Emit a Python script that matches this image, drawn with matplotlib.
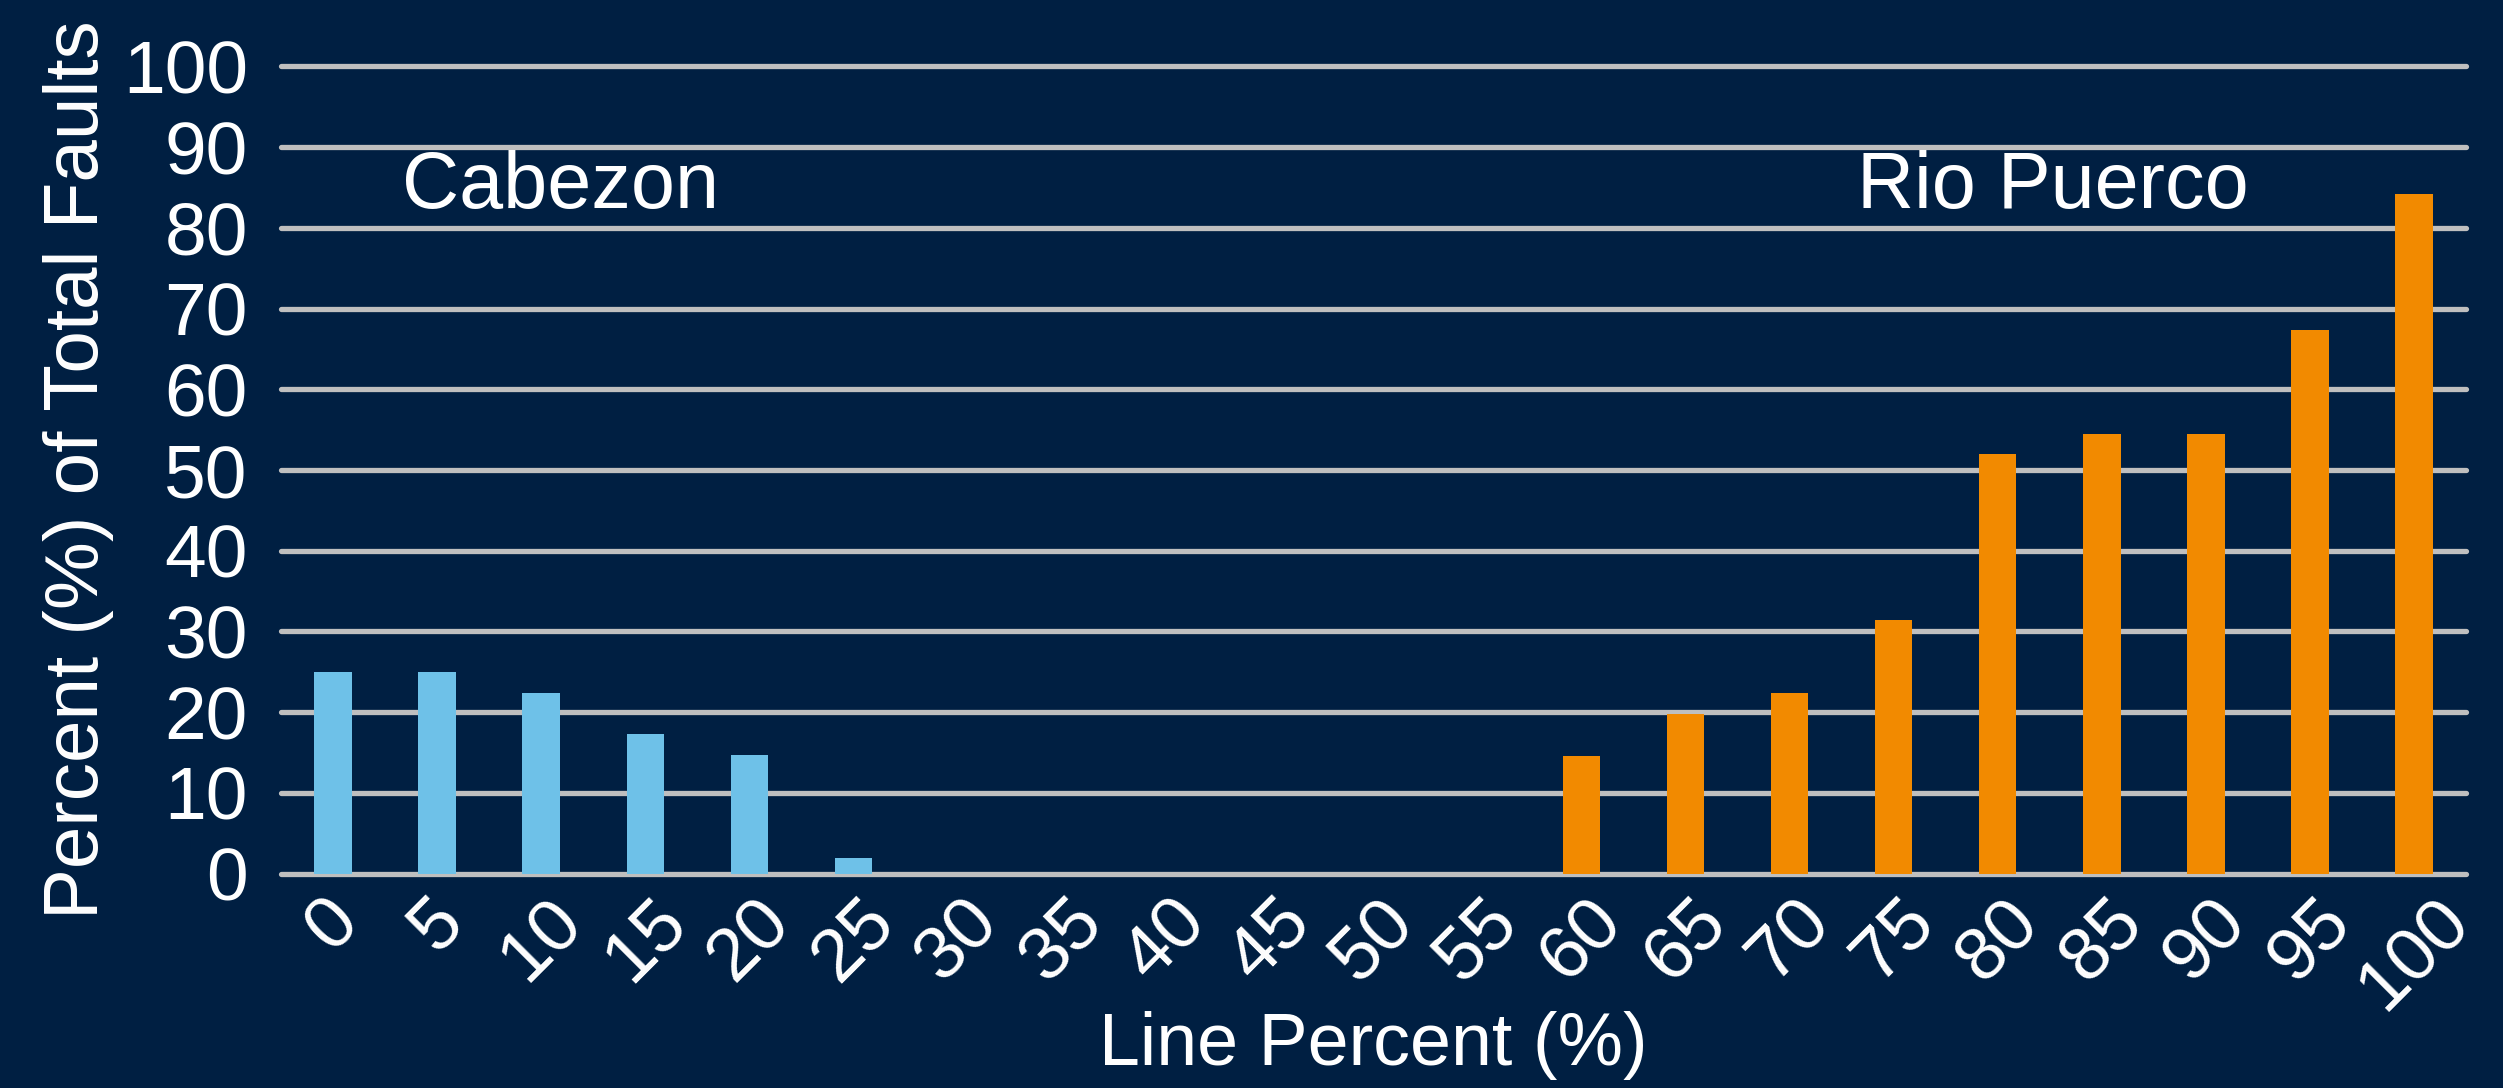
import matplotlib
matplotlib.use("Agg")
import matplotlib.pyplot as plt
import numpy as np

# line percent bins and share of faults per bin
bins = [str(v) for v in range(0, 105, 5)]
cabezon = [25.0, 25.0, 22.4, 17.3, 14.7, 1.9, 0, 0, 0, 0, 0, 0, 0, 0, 0, 0, 0, 0, 0, 0, 0]
rio_puerco = [0, 0, 0, 0, 0, 0, 0, 0, 0, 0, 0, 0, 14.6, 19.8, 22.4, 31.4, 52.0, 54.5, 54.5, 67.4, 84.2]
yticks = list(range(0, 101, 10))

bg = "#001f42"
plt.rcParams["font.family"] = ["Liberation Sans", "DejaVu Sans"]

fig = plt.figure(figsize=(25.03, 10.88), dpi=100, facecolor=bg)
ax = fig.add_axes([0.1123, 0.197, 0.8729, 0.742])
ax.set_facecolor(bg)

x = np.arange(len(bins))
ax.bar(x, cabezon, width=0.36, color="#6ec1e8", zorder=3)
ax.bar(x, rio_puerco, width=0.36, color="#f28a00", zorder=3)

# horizontal grid with rounded ends
for y in yticks:
    ax.plot([-0.5, 20.5], [y, y], color="#bfbfbf", lw=3.8,
            solid_capstyle="round", zorder=1, clip_on=False)

ax.set_xlim(-0.5, 20.5)
ax.set_ylim(0, 100)
ax.set_yticks(yticks)
ax.set_yticklabels([str(v) for v in yticks])
ax.set_xticks(x)
ax.set_xticklabels(bins, rotation=45, ha="center", va="top")
ax.tick_params(axis="y", length=0, pad=24, labelsize=54, colors="white")
ax.tick_params(axis="x", length=0, pad=9, labelsize=54, colors="white")
for s in ax.spines.values():
    s.set_visible(False)

ax.set_ylabel("Percent (%) of Total Faults", fontsize=55, color="white", labelpad=6)
ax.text(0.5, -0.213, "Line Percent (%)", transform=ax.transAxes,
        ha="center", va="center", fontsize=53, color="white")

ax.text(2.19, 85, "Cabezon", ha="center", va="center", fontsize=57, color="white")
ax.text(16.53, 85, "Rio Puerco", ha="center", va="center", fontsize=57, color="white")

fig.savefig("out.png", dpi=100, facecolor=bg)
